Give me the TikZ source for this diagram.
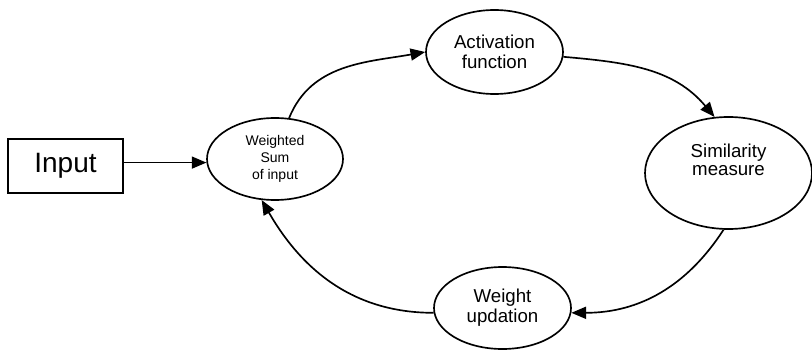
\documentclass[tikz,border=0pt]{standalone}
\usepackage{fontspec}
\setmainfont{Liberation Sans}
\usetikzlibrary{arrows.meta,shapes.geometric}
\tikzset{
  inbox/.style={draw, line width=1.25pt, minimum width=86.25pt, minimum height=40.5pt,
                inner sep=0pt, font=\fontsize{21}{23}\selectfont},
  stage/.style={draw, ellipse, line width=1.25pt, inner sep=1pt, align=center,
                font=\fontsize{14}{15}\selectfont},
  flow/.style={line width=1.25pt, -{Triangle[length=11pt, width=9pt]}},
}
\begin{document}
\begin{tikzpicture}[x=0.75pt, y=0.75pt]
\useasboundingbox (0,0) rectangle (812,350);

% Input
\node[inbox] (input) at (65.5,184) {Input};

% Stages of the loop
\node[stage, minimum width=102pt, minimum height=61.5pt,
      font=\fontsize{10.5}{12.75}\selectfont]
      (wsum) at (275,191) {Weighted\\Sum\\of input};
\node[stage, minimum width=102.75pt, minimum height=63pt]
      (act) at (494.5,298) {Activation\\function};
\node[stage, minimum width=125.25pt, minimum height=84pt,
      label={[yshift=10pt, align=center, font=\fontsize{14}{13}\selectfont]center:{Similarity\\measure}}]
      (sim) at (728.5,177) {};
\node[stage, minimum width=102.75pt, minimum height=61.5pt]
      (wupd) at (502.5,42) {Weight\\updation};

% Arrows
\draw[flow] (wsum.-177 -| input.east) -- (wsum.-177);
\draw[flow] (wsum.71) to[out=68, in=190] (act.west);
\draw[flow] (act.-4) to[out=-5, in=130] (sim.104);
\draw[flow] (sim.265) to[out=237, in=0] (wupd.-4);
\draw[flow] (wupd.184) to[out=180, in=-60] (wsum.252);

\end{tikzpicture}
\end{document}
